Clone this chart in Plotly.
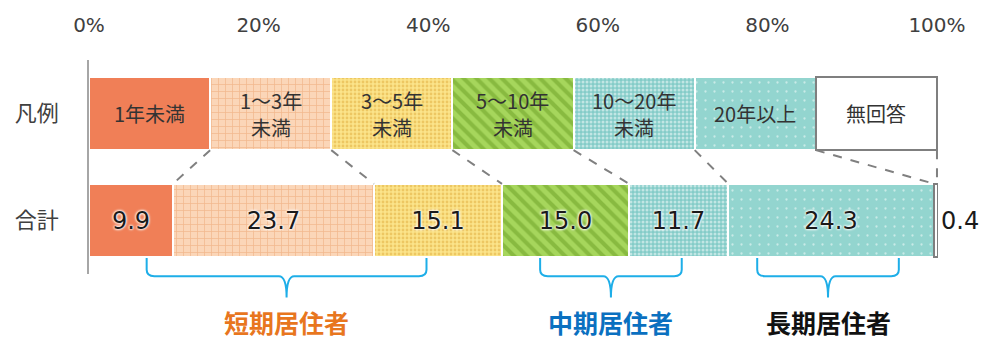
import plotly.graph_objects as go

# Residence length categories (legend row labels) and survey shares (%)
categories = ["1年未満", "1～3年未満", "3～5年未満", "5～10年未満", "10～20年未満", "20年以上", "無回答"]
legend_lines = [["1年未満"], ["1～3年", "未満"], ["3～5年", "未満"], ["5～10年", "未満"],
                ["10～20年", "未満"], ["20年以上"], ["無回答"]]
total_values = [9.9, 23.7, 15.1, 15.0, 11.7, 24.3, 0.4]
legend_share = [100 / 7] * 7
row_labels = ["合計", "凡例"]
x_ticks = [0, 20, 40, 60, 80, 100]
x_tick_text = ["0%", "20%", "40%", "60%", "80%", "100%"]

# Groups of categories with bracket spans (% of axis)
group_names = ["短期居住者", "中期居住者", "長期居住者"]
group_spans = [(6.8, 39.8), (53.2, 69.9), (78.8, 95.5)]
group_colors = ["#E8761E", "#0A70C0", "#111111"]

FONT = "DejaVu Sans, Noto Sans CJK JP, sans-serif"
JP_FONT = "Noto Sans CJK JP, sans-serif"

styles = [
    dict(color="#F07F57", pattern=dict(shape="")),
    dict(color="#FBD6B8", pattern=dict(shape="+", fgcolor="#E99A63", bgcolor="#FBD6B8", size=7, solidity=0.2)),
    dict(color="#FAE38A", pattern=dict(shape=".", fgcolor="#E0A93A", bgcolor="#FBE48A", size=4, solidity=0.4)),
    dict(color="#A9D65E", pattern=dict(shape="\\", fgcolor="#6A9E24", bgcolor="#A6D65C", size=9, solidity=0.45)),
    dict(color="#86CDC9", pattern=dict(shape=".", fgcolor="#FFFFFF", bgcolor="#84CCC8", size=4, solidity=0.45)),
    dict(color="#93D5CF", pattern=dict(shape=".", fgcolor="#FFFFFF", bgcolor="#93D5CF", size=9, solidity=0.05)),
    dict(color="#FFFFFF", pattern=dict(shape="")),
]

BAR_W = 0.685
X_MAX = 100.12
fig = go.Figure()
annotations = []

cum_leg = 0.0
for i, cat in enumerate(categories):
    st = styles[i]
    edge = dict(color="#7F7F7F", width=2) if cat == "無回答" else dict(color="#FFFFFF", width=2)
    # legend row
    fig.add_trace(go.Bar(
        x=[legend_share[i]], y=[1], orientation="h", width=BAR_W,
        marker=dict(color=st["color"], pattern=st["pattern"], line=edge),
        hoverinfo="skip", showlegend=False,
    ))
    # legend row labels, one annotation per line, centred in the segment
    centre = cum_leg + legend_share[i] / 2
    cum_leg += legend_share[i]
    lines = legend_lines[i]
    n = len(lines)
    for k, line in enumerate(lines):
        annotations.append(dict(
            x=centre, y=1, xref="x", yref="y", text=line, showarrow=False,
            yshift=(n - 1) * 13.5 - k * 27, borderpad=0,
            font=dict(family=JP_FONT, size=20, color="#333333"),
            xanchor="center", yanchor="middle",
        ))
    # total row
    last = cat == "無回答"
    fig.add_trace(go.Bar(
        x=[total_values[i]], y=[0], orientation="h", width=BAR_W,
        marker=dict(color=st["color"], pattern=st["pattern"], line=edge),
        text=[f"{total_values[i]:.1f}"],
        textposition="outside" if last else "inside",
        insidetextanchor="middle", textangle=0, constraintext="none",
        cliponaxis=False,
        textfont=dict(family=FONT, size=24, color="#1A1A1A",
                      shadow="0px 0px 3px #FFFFFF, 0px 0px 3px #FFFFFF, 0px 0px 2px #FFFFFF"),
        hoverinfo="skip", showlegend=False,
    ))

shapes = []
# dashed series lines joining the legend row boundaries to the total row boundaries
cum_leg, cum_tot = 0.0, 0.0
for i in range(len(categories)):
    cum_leg += legend_share[i]
    cum_tot += total_values[i]
    shapes.append(dict(
        type="line", xref="x", yref="y",
        x0=min(cum_leg, 100), y0=1 - BAR_W / 2, x1=min(cum_tot, 100), y1=BAR_W / 2,
        line=dict(color="#808080", width=2, dash="dash"),
    ))

# curly brackets under the total row (paper coordinates)
y_top, y_mid, y_tip = 0.075, -0.01, -0.11
for (a, b), name, col in zip(group_spans, group_names, group_colors):
    a, b = a / X_MAX, b / X_MAX
    m = (a + b) / 2
    r = 0.009
    path = (f"M {a},{y_top} L {a},{y_mid + 0.03} Q {a},{y_mid} {a + r},{y_mid} "
            f"L {m - r},{y_mid} Q {m},{y_mid} {m},{y_tip} "
            f"Q {m},{y_mid} {m + r},{y_mid} L {b - r},{y_mid} "
            f"Q {b},{y_mid} {b},{y_mid + 0.03} L {b},{y_top}")
    shapes.append(dict(type="path", xref="paper", yref="paper", path=path,
                       line=dict(color="#1EAEE8", width=2)))

for (a, b), name, col in zip(group_spans, group_names, group_colors):
    annotations.append(dict(
        x=(a + b) / 2 / X_MAX, y=-0.225, xref="paper", yref="paper",
        text=f"<b>{name}</b>", showarrow=False, borderpad=0,
        font=dict(family=JP_FONT, size=25, color=col),
        xanchor="center", yanchor="middle",
    ))

fig.update_layout(
    width=989, height=340,
    margin=dict(l=89, r=51, t=60, b=66),
    barmode="stack", bargap=0,
    plot_bgcolor="#FFFFFF", paper_bgcolor="#FFFFFF",
    shapes=shapes, annotations=annotations,
    xaxis=dict(
        range=[0, X_MAX], side="top", tickmode="array",
        tickvals=x_ticks, ticktext=x_tick_text,
        showgrid=False, zeroline=False, showline=False,
        ticks="", ticklabelstandoff=23,
        tickfont=dict(family=FONT, size=20, color="#404040"),
        fixedrange=True,
    ),
    yaxis=dict(
        range=[-0.5, 1.5], tickvals=[0, 1], ticktext=row_labels,
        showgrid=False, zeroline=False, showline=True,
        linecolor="#A6A6A6", linewidth=1.5,
        ticks="", ticklabelstandoff=24,
        tickfont=dict(family=JP_FONT, size=22, color="#404040"),
        fixedrange=True,
    ),
)

fig.write_html("out.html")
